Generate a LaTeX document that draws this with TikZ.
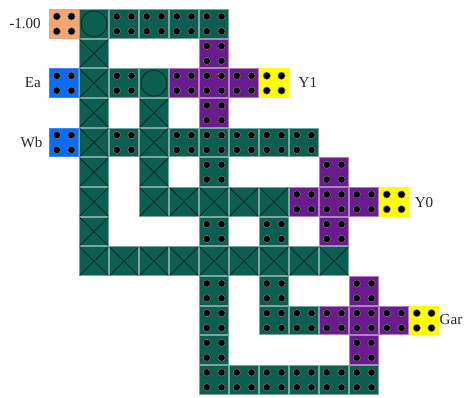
\documentclass[tikz,border=0pt]{standalone}
\usepackage{fontspec}
\setmainfont{Liberation Serif}
\definecolor{gridgreen}{HTML}{0C5F50}
\definecolor{gridpurple}{HTML}{6A1B8E}
\definecolor{gridorange}{HTML}{F4A672}
\definecolor{gridblue}{HTML}{0A6CF2}
\definecolor{gridyellow}{HTML}{FFFF00}
\tikzset{
	greencell/.style={draw=gridgreen!55!white,fill=gridgreen,line width=0.6pt},
	purplecell/.style={draw=gridpurple!55!white,fill=gridpurple,line width=0.6pt},
	orangecell/.style={draw=gridorange,fill=gridorange,line width=0.6pt},
	bluecell/.style={draw=gridblue!80!white,fill=gridblue,line width=0.6pt},
	yellowcell/.style={draw=gridyellow,fill=gridyellow,line width=0.6pt},
	holemark/.style={fill=black,draw=gray,line width=0.25pt},
	wiremark/.style={draw=black!55!gridgreen,line width=0.45pt},
	labeltext/.style={font=\fontsize{8.6}{10}\selectfont,text=black!85,inner sep=0pt}
}
% one cell: style, column, row
\newcommand{\gridcell}[3]{\draw[#1] (#2+0.015,-#3-0.015) rectangle (#2+0.985,-#3-0.985);}
\newcommand{\dotcell}[3]{\gridcell{#1}{#2}{#3}
	\foreach \dx in {0.26,0.75} \foreach \dy in {0.25,0.75}
		\draw[holemark] (#2+\dx,-#3-\dy) circle (0.073cm);}
\newcommand{\crosscell}[2]{\gridcell{greencell}{#1}{#2}
	\draw[wiremark] (#1+0.03,-#2-0.03)--(#1+0.97,-#2-0.97);
	\draw[wiremark] (#1+0.03,-#2-0.97)--(#1+0.97,-#2-0.03);}
\newcommand{\ringcell}[2]{\gridcell{greencell}{#1}{#2}
	\draw[wiremark] (#1+0.5,-#2-0.5) circle (0.26cm);}
\begin{document}
\begin{tikzpicture}[x=0.6cm,y=0.5934cm]
	\useasboundingbox (-1.6333,0.3033) rectangle (13.8333,-13.0775);
	% source and output cells
	\dotcell{orangecell}{0}{0}
	\foreach \rw in {2,4} {\dotcell{bluecell}{0}{\rw}}
	\foreach \cl/\rw in {7/2,11/6,12/10} {\dotcell{yellowcell}{\cl}{\rw}}
	% dotted green cells
	\foreach \cl/\rw in {2/0,3/0,4/0,5/0,2/2,2/4,4/4,5/4,6/4,7/4,8/4,5/5,5/7,7/7,5/9,7/9,5/10,7/10,8/10,5/11,5/12,6/12,7/12,8/12,9/12,10/12}
		{\dotcell{greencell}{\cl}{\rw}}
	% dotted purple cells
	\foreach \cl/\rw in {5/1,4/2,5/2,6/2,5/3,9/5,8/6,9/6,10/6,9/7,10/9,9/10,10/10,11/10,10/11}
		{\dotcell{purplecell}{\cl}{\rw}}
	% crossed cells
	\foreach \rw in {1,...,8} {\crosscell{1}{\rw}}
	\foreach \rw in {3,4,5,6} {\crosscell{3}{\rw}}
	\foreach \cl in {4,5,6,7} {\crosscell{\cl}{6}}
	\foreach \cl in {2,...,9} {\crosscell{\cl}{8}}
	% ringed cells
	\ringcell{1}{0}
	\ringcell{3}{2}
	% labels
	\node[labeltext] (minusone) at (-0.8,-0.5) {-1.00};
	\node[labeltext] (ea) at (-0.54,-2.48) {Ea};
	\node[labeltext] (wb) at (-0.58,-4.48) {Wb};
	\node[labeltext] (yone) at (8.63,-2.47) {Y1};
	\node[labeltext] (yzero) at (12.5,-6.52) {Y0};
	\node[labeltext] (gar) at (13.4,-10.48) {Gar};
\end{tikzpicture}
\end{document}
